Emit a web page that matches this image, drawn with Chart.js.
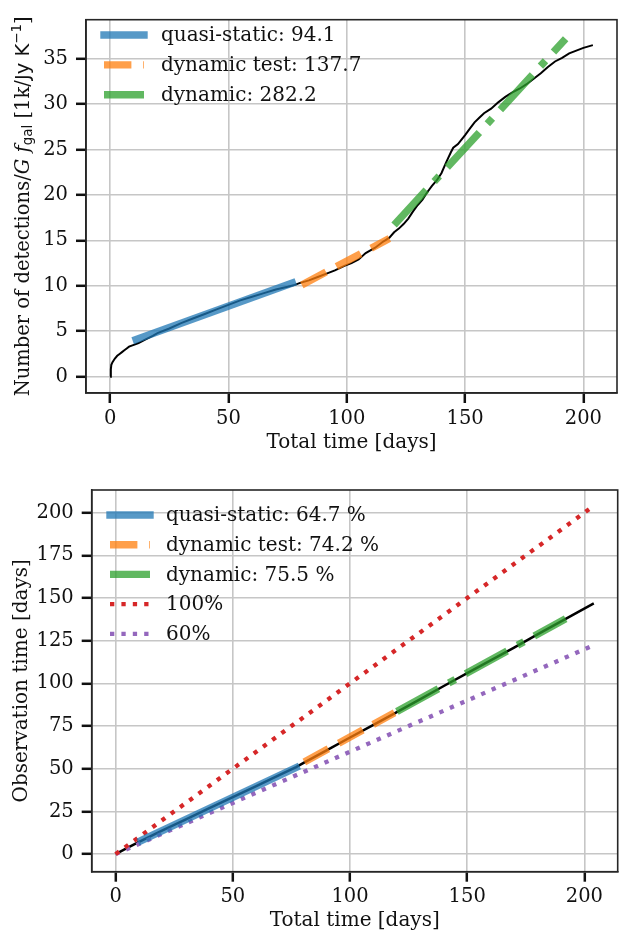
<!DOCTYPE html>
<html>
<head>
<meta charset="utf-8">
<script src="https://cdn.jsdelivr.net/npm/chart.js@4.4.1/dist/chart.umd.min.js"></script>
<style>
html, body { margin: 0; padding: 0; background: #fff; }
#wrap { position: relative; width: 620px; height: 933px; }
canvas { position: absolute; left: 0; }
</style>
</head>
<body>
<div id="wrap">
  <canvas id="detections" width="620" height="466" style="top:0px"></canvas>
  <canvas id="obstime" width="620" height="467" style="top:466px"></canvas>
</div>
<script>
// ---- top panel: number of detections vs total time ----
var detT = [0, 0.3, 0.5, 1, 2, 3, 4, 5, 6, 7, 8, 10, 12, 15, 18, 20, 25, 30, 35, 40, 45, 50, 55, 60, 65, 70, 75, 78,
            80, 84, 88, 92, 95, 99, 102, 105, 108, 112, 115, 118, 120, 122, 124, 126, 128, 130, 132, 134, 136, 138,
            140, 142, 144, 145, 147, 150, 152, 154, 156, 158, 161, 164, 167, 170, 173, 176, 179, 182, 185, 188,
            191, 194, 197, 200, 204];
var detN = [0, 0.8, 1.3, 1.6, 2.0, 2.3, 2.5, 2.7, 2.9, 3.1, 3.3, 3.5, 3.7, 4.1, 4.5, 4.8, 5.3, 5.9, 6.4, 6.9, 7.4, 7.9, 8.4, 8.8, 9.2, 9.6, 9.9, 10.1,
            10.3, 10.6, 11.0, 11.4, 11.7, 12.2, 12.5, 12.9, 13.6, 14.2, 14.8, 15.3, 15.9, 16.3, 16.8, 17.4, 18.2, 18.9, 19.5, 20.3, 21.0, 21.6,
            22.4, 23.6, 24.7, 25.2, 25.6, 26.6, 27.3, 28.0, 28.5, 29.0, 29.5, 30.2, 30.8, 31.3, 31.7, 32.2, 32.8, 33.4, 34.1, 34.7,
            35.1, 35.6, 35.9, 36.2, 36.5];
var quasiT = [11, 77],    quasiN = [4.1, 10.3];
var dynTestT = [81, 118], dynTestN = [10.1, 15.2];
var dynT = [120, 192.5],  dynN = [16.7, 37.2];
var detXTicks = [0, 50, 100, 150, 200];
var detYTicks = [0, 5, 10, 15, 20, 25, 30, 35];
var detLabels = ['quasi-static: 94.1', 'dynamic test: 137.7', 'dynamic: 282.2'];

// ---- bottom panel: observation time vs total time ----
var obsT = [0, 5, 10, 20, 30, 40, 50, 60, 70, 77, 80, 90, 100, 110, 119, 130, 140, 150, 160, 170, 180, 192, 204];
var obsD = [0, 3.6, 7.2, 13.9, 20.4, 26.9, 33.4, 39.8, 46.4, 51.0, 53.3, 60.8, 68.3, 75.7, 82.4, 90.8, 98.5, 106.0, 113.5, 121.0, 128.7, 137.8, 146.9];
var oQuasiT = [11, 77],     oQuasiD = [8.0, 50.7];
var oDynTestT = [80.5, 119], oDynTestD = [54.0, 82.8];
var oDynT = [120, 192],     oDynD = [83.5, 137.9];
var fullT = [0, 204],       fullD = [0, 204];
var sixtyT = [0, 204],      sixtyD = [0, 122.4];
var obsXTicks = [0, 50, 100, 150, 200];
var obsYTicks = [0, 25, 50, 75, 100, 125, 150, 175, 200];
var obsLabels = ['quasi-static: 64.7 %', 'dynamic test: 74.2 %', 'dynamic: 75.5 %', '100%', '60%'];

var SERIF = "'DejaVu Serif', serif";
var SANS = "'DejaVu Sans', sans-serif";
Chart.defaults.font.family = SERIF;
Chart.defaults.color = '#111';

function pts(xs, ys) {
  return xs.map(function (x, i) { return { x: x, y: ys[i] }; });
}

var blue = 'rgba(31,119,180,0.75)', orange = 'rgba(255,127,14,0.75)', green = 'rgba(44,160,44,0.75)';
var LW = 7.4;

function fitLine(xs, ys, color, dash, cap, label) {
  return { data: pts(xs, ys), borderColor: color, borderWidth: LW, borderDash: dash, borderCapStyle: cap,
           pointRadius: 0, fill: false, legendLabel: label, order: 1 };
}

// frame on all four sides
var framePlugin = {
  id: 'frame',
  afterDraw: function (chart) {
    var a = chart.chartArea, ctx = chart.ctx;
    ctx.save();
    ctx.strokeStyle = '#262626';
    ctx.lineWidth = 1.6;
    ctx.strokeRect(a.left, a.top, a.right - a.left, a.bottom - a.top);
    ctx.restore();
  }
};

// matplotlib-like legend: line handle + label, no box
var lineLegendPlugin = {
  id: 'lineLegend',
  afterDatasetsDraw: function (chart, args, opts) {
    var ctx = chart.ctx;
    var items = chart.data.datasets.filter(function (d) { return d.legendLabel; });
    ctx.save();
    items.forEach(function (d, i) {
      var y = opts.y0 + i * opts.dy;
      ctx.beginPath();
      ctx.strokeStyle = d.borderColor;
      ctx.lineWidth = d.borderWidth;
      ctx.lineCap = d.borderCapStyle || 'butt';
      ctx.setLineDash(d.borderDash || []);
      ctx.moveTo(opts.x0, y);
      ctx.lineTo(opts.x1, y);
      ctx.stroke();
      ctx.setLineDash([]);
      ctx.fillStyle = '#111';
      ctx.font = opts.fontSize + 'px ' + SERIF;
      ctx.textBaseline = 'middle';
      ctx.textAlign = 'left';
      ctx.fillText(d.legendLabel, opts.textX, y + 1);
    });
    ctx.restore();
  }
};

// y title with italic symbols, subscript and superscript
var mathTitlePlugin = {
  id: 'mathTitle',
  afterDraw: function (chart, args, opts) {
    if (!opts.parts) return;
    var ctx = chart.ctx, a = chart.chartArea;
    ctx.save();
    ctx.translate(opts.x, (a.top + a.bottom) / 2);
    ctx.rotate(-Math.PI / 2);
    ctx.textBaseline = 'middle';
    ctx.textAlign = 'left';
    ctx.fillStyle = '#111';
    var total = 0;
    opts.parts.forEach(function (p) { ctx.font = p.font; total += ctx.measureText(p.text).width; });
    var x = -total / 2;
    opts.parts.forEach(function (p) {
      ctx.font = p.font;
      ctx.fillText(p.text, x, p.dy || 0);
      x += ctx.measureText(p.text).width;
    });
    ctx.restore();
  }
};

function axisBase(ticks, fit, isX) {
  return {
    type: 'linear',
    afterBuildTicks: function (s) { s.ticks = ticks.map(function (v) { return { value: v }; }); },
    afterFit: function (s) { if (isX) { s.height = fit; } else { s.width = fit; } },
    grid: { color: '#c6c6c6', lineWidth: 1.6, drawTicks: true, tickLength: 10, tickColor: '#111', tickWidth: 2.5 },
    border: { display: true, color: '#262626', width: 1.6 },
    ticks: { font: { size: 19.5 }, padding: isX ? 4 : 8, color: '#111' }
  };
}

// ---- top chart ----
var detX = axisBase(detXTicks, 73, true);
detX.min = -10.2; detX.max = 214.2;
detX.title = { display: true, text: 'Total time [days]', font: { size: 20 }, padding: { top: 0, bottom: 11 } };
var detY = axisBase(detYTicks, 86, false);
detY.min = -1.8; detY.max = 39.3;

var ctxDet = document.getElementById('detections').getContext('2d');
var chartDet = new Chart(ctxDet, {
  type: 'line',
  data: {
    datasets: [
      fitLine(quasiT, quasiN, blue, [], 'square', detLabels[0]),
      fitLine(dynTestT, dynTestN, orange, [27.4, 11.8], 'butt', detLabels[1]),
      fitLine(dynT, dynN, green, [47.4, 11.8, 7.4, 11.8], 'butt', detLabels[2]),
      { data: pts(detT, detN), borderColor: '#000', borderWidth: 2, pointRadius: 0, fill: false, order: 5 }
    ]
  },
  options: {
    responsive: false, animation: false, events: [],
    layout: { padding: { top: 8, right: 3, left: 0, bottom: 0 } },
    scales: { x: detX, y: detY },
    plugins: {
      legend: { display: false }, tooltip: { enabled: false },
      lineLegend: { x0: 104, x1: 144, textX: 161, y0: 35, dy: 29.85, fontSize: 20 },
      mathTitle: {
        x: 24,
        parts: [
          { text: 'Number of detections/', font: '19.5px ' + SERIF },
          { text: 'G', font: 'italic 19.5px ' + SERIF },
          { text: ' ', font: '19.5px ' + SERIF },
          { text: 'f', font: 'italic 19.5px ' + SERIF },
          { text: 'gal', font: '13.5px ' + SANS, dy: 4 },
          { text: ' [1k/', font: '19.5px ' + SERIF },
          { text: 'Jy K', font: '19.5px ' + SANS },
          { text: '\u22121', font: '13.5px ' + SANS, dy: -7 },
          { text: ']', font: '19.5px ' + SERIF }
        ]
      }
    }
  },
  plugins: [framePlugin, lineLegendPlugin, mathTitlePlugin]
});

// ---- bottom chart ----
var obsX = axisBase(obsXTicks, 61.3, true);
obsX.min = -10.2; obsX.max = 214.2;
obsX.title = { display: true, text: 'Total time [days]', font: { size: 20 }, padding: { top: 0, bottom: 0.5 } };
var obsY = axisBase(obsYTicks, 91.7, false);
obsY.min = -10.3; obsY.max = 213.3;
obsY.title = { display: true, text: 'Observation time [days]', font: { size: 20 }, padding: { top: 9.5, bottom: 0 } };

var ctxObs = document.getElementById('obstime').getContext('2d');
var chartObs = new Chart(ctxObs, {
  type: 'line',
  data: {
    datasets: [
      fitLine(oQuasiT, oQuasiD, blue, [], 'square', obsLabels[0]),
      fitLine(oDynTestT, oDynTestD, orange, [27.4, 11.8], 'butt', obsLabels[1]),
      fitLine(oDynT, oDynD, green, [47.4, 11.8, 7.4, 11.8], 'butt', obsLabels[2]),
      { data: pts(fullT, fullD), borderColor: '#d62728', borderWidth: 4.3, borderDash: [4.3, 7.1], pointRadius: 0,
        fill: false, legendLabel: obsLabels[3], order: 2 },
      { data: pts(sixtyT, sixtyD), borderColor: '#9467bd', borderWidth: 4.3, borderDash: [4.3, 7.1], pointRadius: 0,
        fill: false, legendLabel: obsLabels[4], order: 2 },
      { data: pts(obsT, obsD), borderColor: '#000', borderWidth: 2.5, pointRadius: 0, fill: false, order: 5 }
    ]
  },
  options: {
    responsive: false, animation: false, events: [],
    layout: { padding: { top: 24, right: 2.3, left: 0, bottom: 0 } },
    scales: { x: obsX, y: obsY },
    plugins: {
      legend: { display: false }, tooltip: { enabled: false },
      lineLegend: { x0: 110, x1: 150, textX: 166, y0: 49, dy: 29.7, fontSize: 20 }
    }
  },
  plugins: [framePlugin, lineLegendPlugin]
});
</script>
</body>
</html>
